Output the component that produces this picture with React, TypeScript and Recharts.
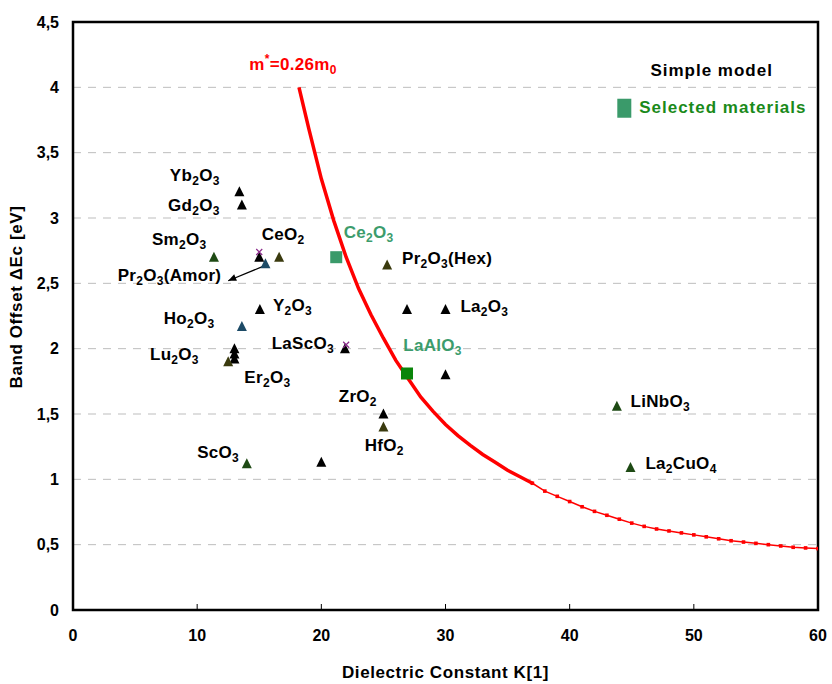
import React from "react";
import {
  ScatterChart,
  Scatter,
  XAxis,
  YAxis,
  CartesianGrid,
  ReferenceArea,
} from "recharts";

// tick values
const xTicks = [0, 10, 20, 30, 40, 50, 60];
const yTicks = [0, 0.5, 1, 1.5, 2, 2.5, 3, 3.5, 4, 4.5];

// m* = 0.26 m0 curve
const curveHead = [
  { x: 18.2, y: 4.0 }, { x: 19, y: 3.68 }, { x: 20, y: 3.3 }, { x: 21, y: 2.98 },
  { x: 22, y: 2.7 }, { x: 23, y: 2.46 }, { x: 24, y: 2.26 }, { x: 25, y: 2.08 },
  { x: 26, y: 1.91 }, { x: 27, y: 1.77 }, { x: 28, y: 1.63 }, { x: 29, y: 1.52 },
  { x: 30, y: 1.42 }, { x: 31, y: 1.335 }, { x: 32, y: 1.26 }, { x: 33, y: 1.19 },
  { x: 34, y: 1.13 }, { x: 35, y: 1.07 }, { x: 36, y: 1.02 }, { x: 37, y: 0.97 },
];
const curveTail = [
  { x: 37, y: 0.97 }, { x: 38, y: 0.91 }, { x: 39, y: 0.87 }, { x: 40, y: 0.83 },
  { x: 41, y: 0.79 }, { x: 42, y: 0.755 }, { x: 43, y: 0.725 }, { x: 44, y: 0.695 },
  { x: 45, y: 0.665 }, { x: 46, y: 0.64 }, { x: 47, y: 0.62 }, { x: 48, y: 0.605 },
  { x: 49, y: 0.59 }, { x: 50, y: 0.575 }, { x: 51, y: 0.56 }, { x: 52, y: 0.545 },
  { x: 53, y: 0.53 }, { x: 54, y: 0.52 }, { x: 55, y: 0.51 }, { x: 56, y: 0.5 },
  { x: 57, y: 0.49 }, { x: 58, y: 0.48 }, { x: 59, y: 0.475 }, { x: 60, y: 0.47 },
];

// materials (triangles), grouped by marker colour
const blackPts = [
  { x: 13.4, y: 3.2 }, { x: 13.6, y: 3.1 }, { x: 15.0, y: 2.7 }, { x: 15.05, y: 2.3 },
  { x: 13.0, y: 2.0 }, { x: 13.0, y: 1.96 }, { x: 13.0, y: 1.92 }, { x: 21.9, y: 2.0 },
  { x: 26.9, y: 2.3 }, { x: 30.0, y: 2.3 }, { x: 30.0, y: 1.8 }, { x: 25.0, y: 1.5 },
  { x: 20.0, y: 1.13 },
];
const greenPts = [
  { x: 11.35, y: 2.7 }, { x: 14.0, y: 1.12 }, { x: 43.8, y: 1.56 }, { x: 44.9, y: 1.09 },
];
const olivePts = [
  { x: 16.6, y: 2.7 }, { x: 25.3, y: 2.64 }, { x: 25.0, y: 1.4 }, { x: 12.5, y: 1.9 },
];
const bluePts = [
  { x: 15.5, y: 2.65 }, { x: 13.6, y: 2.17 },
];
const crossPts = [
  { x: 15.0, y: 2.74 }, { x: 22.0, y: 2.03 },
];

// selected materials (squares)
const ce2o3 = [{ x: 21.2, y: 2.7 }];
const laalo3 = [{ x: 26.9, y: 1.81 }];
const legendMark = [{ x: 44.4, y: 3.84 }];

// Pr2O3(Amor) arrow
const arrowPts = [
  { x: 12.5, y: 2.52, head: true },
  { x: 15.3, y: 2.63 },
];

// labels: "_" = subscript, "^" = superscript
const labels = [
  { x: 7.8, y: 3.28, text: "Yb_2O_3", color: "#000" },
  { x: 7.65, y: 3.05, text: "Gd_2O_3", color: "#000" },
  { x: 6.36, y: 2.79, text: "Sm_2O_3", color: "#000" },
  { x: 15.2, y: 2.83, text: "CeO_2", color: "#000" },
  { x: 3.6, y: 2.52, text: "Pr_2O_3(Amor)", color: "#000" },
  { x: 16.1, y: 2.29, text: "Y_2O_3", color: "#000" },
  { x: 7.3, y: 2.19, text: "Ho_2O_3", color: "#000" },
  { x: 16.0, y: 2.0, text: "LaScO_3", color: "#000" },
  { x: 6.2, y: 1.91, text: "Lu_2O_3", color: "#000" },
  { x: 13.8, y: 1.74, text: "Er_2O_3", color: "#000" },
  { x: 21.8, y: 2.85, text: "Ce_2O_3", color: "#3c9c6c" },
  { x: 26.5, y: 2.65, text: "Pr_2O_3(Hex)", color: "#000" },
  { x: 31.2, y: 2.28, text: "La_2O_3", color: "#000" },
  { x: 26.6, y: 1.98, text: "LaAlO_3", color: "#3c9c6c" },
  { x: 21.4, y: 1.59, text: "ZrO_2", color: "#000" },
  { x: 23.5, y: 1.22, text: "HfO_2", color: "#000" },
  { x: 10.0, y: 1.16, text: "ScO_3", color: "#000" },
  { x: 44.9, y: 1.55, text: "LiNbO_3", color: "#000" },
  { x: 46.1, y: 1.08, text: "La_2CuO_4", color: "#000" },
  { x: 14.2, y: 4.13, text: "m^*=0.26m_0", color: "#ff0000" },
];
const legendLabels = [
  { x: 46.5, y: 4.13, text: "Simple model", color: "#000" },
  { x: 45.6, y: 3.85, text: "Selected materials", color: "#1a8a1a" },
];

const FONT = "'Liberation Sans', Arial, sans-serif";

function RichText({ text }: { text: string }) {
  const parts: React.ReactNode[] = [];
  let shift = 0;
  let buf = "";
  let i = 0;
  const flush = () => {
    if (buf) {
      parts.push(
        <tspan key={parts.length} dy={-shift} fontSize={17}>
          {buf}
        </tspan>
      );
      shift = 0;
      buf = "";
    }
  };
  while (i < text.length) {
    const c = text[i];
    if ((c === "_" || c === "^") && i + 1 < text.length) {
      flush();
      const d = c === "_" ? 4 : -7;
      parts.push(
        <tspan key={parts.length} dy={d - shift} fontSize={12}>
          {text[i + 1]}
        </tspan>
      );
      shift = d;
      i += 2;
      continue;
    }
    buf += c;
    i++;
  }
  flush();
  return <>{parts}</>;
}

const LabelShape = (props: any) => {
  const { cx, cy, payload } = props;
  return (
    <text
      x={cx}
      y={cy}
      dy={6}
      fill={payload.color}
      fontFamily={FONT}
      fontWeight="bold"
      fontSize={17}
      letterSpacing={0.3}
    >
      <RichText text={payload.text} />
    </text>
  );
};

const LegendText = (props: any) => {
  const { cx, cy, payload } = props;
  return (
    <text
      x={cx}
      y={cy}
      dy={6}
      fill={payload.color}
      fontFamily={FONT}
      fontWeight="bold"
      fontSize={17}
      letterSpacing={1}
    >
      {payload.text}
    </text>
  );
};

const Tri = (props: any) => {
  const { cx, cy, fill } = props;
  return (
    <polygon
      points={`${cx},${cy - 5.5} ${cx - 5},${cy + 4.5} ${cx + 5},${cy + 4.5}`}
      fill={fill}
    />
  );
};

const Square = (props: any) => {
  const { cx, cy, fill } = props;
  return <rect x={cx - 6} y={cy - 6} width={12} height={12} fill={fill} />;
};

const LegendSquare = (props: any) => {
  const { cx, cy, fill } = props;
  return <rect x={cx - 7} y={cy - 9.5} width={14} height={19} fill={fill} />;
};

const Cross = (props: any) => {
  const { cx, cy } = props;
  return (
    <path
      d={`M${cx - 3},${cy - 3}L${cx + 3},${cy + 3}M${cx + 3},${cy - 3}L${cx - 3},${cy + 3}`}
      stroke="#8a2a8a"
      strokeWidth={1.2}
    />
  );
};

const TailDot = (props: any) => {
  const { cx, cy } = props;
  return <rect x={cx - 1.8} y={cy - 1.8} width={3.6} height={3.6} fill="#ff0000" />;
};

const ArrowHead = (props: any) => {
  const { cx, cy, payload } = props;
  if (!payload.head) return <g />;
  const ang = Math.atan2(-16, 37);
  const len = 8;
  const w = 3.5;
  const ux = Math.cos(ang);
  const uy = Math.sin(ang);
  const bx = cx + ux * len;
  const by = cy + uy * len;
  return (
    <polygon
      points={`${cx},${cy} ${bx - uy * w},${by + ux * w} ${bx + uy * w},${by - ux * w}`}
      fill="#000"
    />
  );
};

const Nothing = () => <g />;

// x tick marks point inwards from the bottom border
const XTick = (props: any) => {
  const { x, y, payload } = props;
  return (
    <g>
      <line x1={x} y1={y - 21} x2={x} y2={y - 26} stroke="#000" strokeWidth={1} />
      <text
        x={x}
        y={y}
        dy="0.71em"
        textAnchor="middle"
        fill="#000"
        fontFamily={FONT}
        fontWeight="bold"
        fontSize={16}
      >
        {payload.value}
      </text>
    </g>
  );
};

const YLabel = () => (
  <text
    transform="translate(22,297) rotate(-90)"
    textAnchor="middle"
    fill="#000"
    fontFamily={FONT}
    fontWeight="bold"
    fontSize={17}
    letterSpacing={0.6}
  >
    Band Offset {"\u0394"}Ec [eV]
  </text>
);

const tickStyle = { fill: "#000", fontFamily: FONT, fontWeight: "bold", fontSize: 16 };

export default function App() {
  return (
    <div style={{ position: "absolute", left: 0, top: 0, background: "#fff" }}>
      <ScatterChart
        width={832}
        height={684}
        margin={{ top: 22, right: 14, left: 0, bottom: 0 }}
      >
        <CartesianGrid
          vertical={false}
          stroke="#bdbdbd"
          strokeDasharray="8 7"
        />
        <XAxis
          type="number"
          dataKey="x"
          domain={[0, 60]}
          ticks={xTicks}
          allowDataOverflow
          height={74}
          tickSize={0}
          tickMargin={20}
          axisLine={false}
          tick={<XTick />}
          label={{
            value: "Dielectric Constant K[1]",
            position: "insideBottom",
            offset: 6,
            fill: "#000",
            fontFamily: FONT,
            fontWeight: "bold",
            fontSize: 17,
            letterSpacing: 0.6,
          }}
        />
        <YAxis
          type="number"
          dataKey="y"
          domain={[0, 4.5]}
          ticks={yTicks}
          allowDataOverflow
          width={73}
          tickSize={0}
          tickMargin={14}
          axisLine={false}
          tickFormatter={(v: number) => String(v).replace(".", ",")}
          tick={tickStyle}
          label={{ content: <YLabel /> }}
        />
        <ReferenceArea
          x1={0}
          x2={60}
          y1={0}
          y2={4.5}
          fill="none"
          fillOpacity={0}
          stroke="#000"
          strokeWidth={2.5}
        />
        <Scatter
          data={curveHead}
          line={{ stroke: "#ff0000", strokeWidth: 3.5 }}
          shape={Nothing}
          isAnimationActive={false}
        />
        <Scatter
          data={curveTail}
          line={{ stroke: "#ff0000", strokeWidth: 1.5 }}
          shape={TailDot}
          isAnimationActive={false}
        />
        <Scatter
          data={arrowPts}
          line={{ stroke: "#000", strokeWidth: 1.2 }}
          shape={ArrowHead}
          isAnimationActive={false}
        />
        <Scatter data={blackPts} fill="#000" shape={Tri} isAnimationActive={false} />
        <Scatter data={greenPts} fill="#1e4a14" shape={Tri} isAnimationActive={false} />
        <Scatter data={olivePts} fill="#3a3a0e" shape={Tri} isAnimationActive={false} />
        <Scatter data={bluePts} fill="#1c4a66" shape={Tri} isAnimationActive={false} />
        <Scatter data={crossPts} shape={Cross} isAnimationActive={false} />
        <Scatter data={ce2o3} fill="#3a9a6a" shape={Square} isAnimationActive={false} />
        <Scatter data={laalo3} fill="#0a850a" shape={Square} isAnimationActive={false} />
        <Scatter data={legendMark} fill="#3a9a6a" shape={LegendSquare} isAnimationActive={false} />
        <Scatter data={labels} shape={LabelShape} isAnimationActive={false} />
        <Scatter data={legendLabels} shape={LegendText} isAnimationActive={false} />
      </ScatterChart>
    </div>
  );
}
